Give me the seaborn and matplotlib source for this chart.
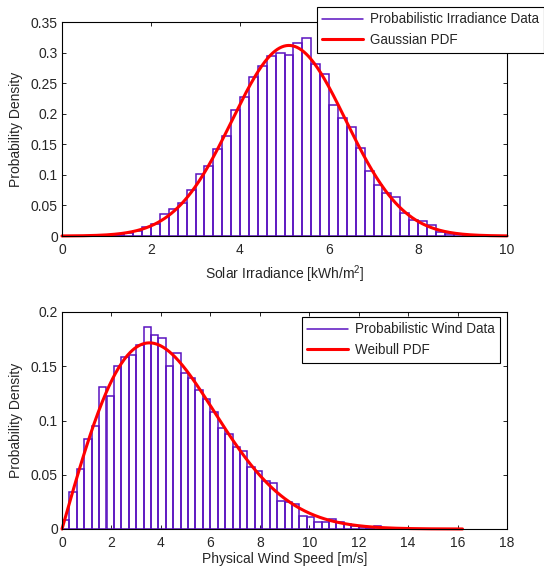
import numpy as np
import pandas as pd
import matplotlib
matplotlib.use("Agg")
import matplotlib.pyplot as plt
import seaborn as sns
from matplotlib.lines import Line2D

# ---------------- data ----------------
irr_bin_start = 0.0
irr_bin_width = 0.2
irr_heights = [0, 0, 0, 0.0005, 0.001, 0.0015, 0.002, 0.0044, 0.0082, 0.014,
               0.0196, 0.0355, 0.0437, 0.054, 0.0753, 0.102, 0.1146, 0.1419, 0.164, 0.2057,
               0.227, 0.2597, 0.278, 0.2946, 0.299, 0.2957, 0.315, 0.324, 0.2815, 0.265,
               0.2144, 0.1937, 0.179, 0.1446, 0.107, 0.083, 0.0704, 0.0633, 0.0382, 0.0265,
               0.025, 0.0175, 0.007, 0.004, 0.003, 0.002, 0.001, 0.0005, 0, 0]
gauss_mean = 5.1
gauss_std = 1.28

wind_bin_start = 0.0
wind_bin_width = 0.3
wind_heights = [0.0085, 0.034, 0.0556, 0.0826, 0.0946, 0.131, 0.123, 0.1505, 0.1588, 0.160,
                0.170, 0.186, 0.179, 0.176, 0.150, 0.1625, 0.1435, 0.139, 0.128, 0.120,
                0.108, 0.0928, 0.0875, 0.0759, 0.0722, 0.0575, 0.0537, 0.0445, 0.0425, 0.0258,
                0.0245, 0.0235, 0.0123, 0.0113, 0.006, 0.0067, 0.009, 0.006, 0.0045, 0.003,
                0.002, 0.001, 0.003, 0.0005, 0, 0, 0, 0, 0, 0]
weib_shape = 2.0
weib_scale = 5.0
weib_xmax = 16.2

irr_xticks = [0, 2, 4, 6, 8, 10]
irr_yticks = [0, 0.05, 0.1, 0.15, 0.2, 0.25, 0.3, 0.35]
irr_yticklabels = ["0", "0.05", "0.1", "0.15", "0.2", "0.25", "0.3", "0.35"]
wind_xticks = [0, 2, 4, 6, 8, 10, 12, 14, 16, 18]
wind_yticks = [0, 0.05, 0.1, 0.15, 0.2]
wind_yticklabels = ["0", "0.05", "0.1", "0.15", "0.2"]

# ---------------- style ----------------
sns.set_style("ticks")
plt.rcParams['font.family'] = ['Liberation Sans', 'DejaVu Sans']
plt.rcParams['mathtext.default'] = 'regular'
plt.rcParams['axes.linewidth'] = 0.8
plt.rcParams['xtick.direction'] = 'in'
plt.rcParams['ytick.direction'] = 'in'
plt.rcParams['xtick.top'] = True
plt.rcParams['ytick.right'] = True

PURPLE = '#5a12c0'
RED = '#ff0000'
FS = 10
LFS = 9.75

fig = plt.figure(figsize=(5.44, 5.69), dpi=100)
ax1 = fig.add_axes([62/544, 1-236/569, 445/544, 214/569])
ax2 = fig.add_axes([62/544, 1-529/569, 445/544, 217/569])


def draw_hist(ax, start, width, heights):
    n = len(heights)
    centers = start + width * (np.arange(n) + 0.5)
    df = pd.DataFrame({"x": centers, "w": heights})
    sns.histplot(data=df, x="x", weights="w", binwidth=width,
                 binrange=(start, start + n * width), stat="count",
                 fill=False, color=PURPLE, linewidth=1.1, ax=ax)


# top panel
draw_hist(ax1, irr_bin_start, irr_bin_width, irr_heights)
xg = np.linspace(0, 10, 400)
pdf_g = np.exp(-0.5 * ((xg - gauss_mean) / gauss_std) ** 2) / (gauss_std * np.sqrt(2 * np.pi))
sns.lineplot(x=xg, y=pdf_g, color=RED, linewidth=2.2, ax=ax1, clip_on=False)
ax1.set_xlim(0, 10)
ax1.set_ylim(0, 0.35)
ax1.set_xticks(irr_xticks)
ax1.set_xticklabels([str(t) for t in irr_xticks])
ax1.set_yticks(irr_yticks)
ax1.set_yticklabels(irr_yticklabels)
ax1.set_xlabel("Solar Irradiance [kWh/m$^{2}$]", fontsize=FS)
ax1.set_ylabel("Probability Density", fontsize=FS)

# bottom panel
draw_hist(ax2, wind_bin_start, wind_bin_width, wind_heights)
xw = np.linspace(0, weib_xmax, 400)
k, lam = weib_shape, weib_scale
pdf_w = (k / lam) * (xw / lam) ** (k - 1) * np.exp(-(xw / lam) ** k)
sns.lineplot(x=xw, y=pdf_w, color=RED, linewidth=2.2, ax=ax2, clip_on=False)
ax2.set_xlim(0, 18)
ax2.set_ylim(0, 0.2)
ax2.set_xticks(wind_xticks)
ax2.set_xticklabels([str(t) for t in wind_xticks])
ax2.set_yticks(wind_yticks)
ax2.set_yticklabels(wind_yticklabels)
ax2.set_xlabel("Physical Wind Speed [m/s]", fontsize=FS)
ax2.set_ylabel("Probability Density", fontsize=FS)

for ax in (ax1, ax2):
    for s in ax.spines.values():
        s.set_color('black')
        s.set_linewidth(0.8)
        s.set_visible(True)
    ax.tick_params(axis='both', which='major', labelsize=FS, length=3, width=0.6,
                   color='black', top=True, right=True)
    ax.tick_params(axis='x', pad=5)
    ax.tick_params(axis='y', pad=3)
    ax.yaxis.set_label_coords(-0.088, 0.5)

ax1.xaxis.set_label_coords(0.5, -0.13)
ax2.xaxis.set_label_coords(0.5, -0.105)

# legends
def make_legend(labels, loc, anchor):
    handles = [Line2D([0], [0], color=PURPLE, lw=1.1),
               Line2D([0], [0], color=RED, lw=2.2)]
    leg = fig.legend(handles, labels, loc=loc, bbox_to_anchor=anchor,
                     bbox_transform=fig.transFigure, frameon=True, fancybox=False,
                     framealpha=1, edgecolor='black', fontsize=LFS, borderaxespad=0,
                     handlelength=3.0, labelspacing=0.5, borderpad=0.4,
                     handletextpad=0.5)
    leg.get_frame().set_linewidth(0.8)
    return leg

make_legend(["Probabilistic Irradiance Data", "Gaussian PDF"], 'upper left', (317/544, 1-7/569))
make_legend(["Probabilistic Wind Data", "Weibull PDF"], 'upper right', (500/544, 1-317/569))

fig.savefig("out.png", dpi=100)
